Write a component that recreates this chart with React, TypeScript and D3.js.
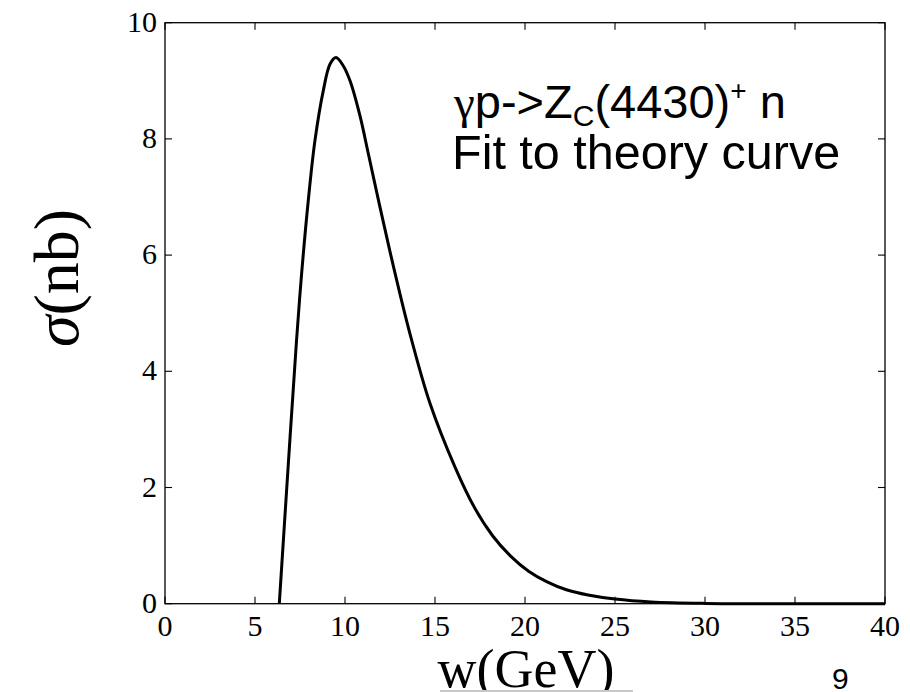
import React from 'react';
import * as d3 from 'd3';

// cross section
const wGeV = [6.35, 6.85, 7.3, 7.59, 7.96, 8.33, 8.8, 9.17, 9.5, 9.9, 10.28, 10.83, 11.3, 11.94, 12.5, 13.0, 13.7, 14.72, 16.1, 17.2, 18.2, 19.2, 20.2, 21.2, 22.3, 23.5, 25, 27, 30, 33, 40];
const sigmaNb = [0, 2.4, 4.5, 5.68, 6.94, 7.97, 8.84, 9.29, 9.4, 9.26, 9.0, 8.4, 7.74, 6.83, 6.06, 5.4, 4.54, 3.45, 2.36, 1.65, 1.17, 0.82, 0.56, 0.38, 0.24, 0.15, 0.08, 0.03, 0.005, 0, 0];

const xTicks = [0, 5, 10, 15, 20, 25, 30, 35, 40];
const yTicks = [0, 2, 4, 6, 8, 10];

const W = 910, H = 692;
const margin = { left: 165, right: 25, top: 22.7, bottom: 88.3 };
const serif = '"Liberation Serif", "DejaVu Serif", serif';
const sans = '"Liberation Sans", Arial, sans-serif';

export default function App() {
  const x = d3.scaleLinear().domain([0, 40]).range([margin.left, W - margin.right]);
  const y = d3.scaleLinear().domain([0, 10]).range([H - margin.bottom, margin.top]);
  const pts = wGeV.map((w, i) => [w, sigmaNb[i]] as [number, number]);
  const line = d3.line<[number, number]>().x((d) => x(d[0])).y((d) => y(d[1])).curve(d3.curveCatmullRom.alpha(0.5));
  const x0 = x(0), x1 = x(40), y0 = y(0), y1 = y(10);
  const tk = 7;

  return (
    <svg width={W} height={H} style={{ position: 'absolute', left: 0, top: 0, background: '#fff' }}>
      {/* curve */}
      <path d={line(pts) || ''} fill="none" stroke="#000" strokeWidth={3} strokeLinejoin="round" />

      {/* frame */}
      <rect x={x0} y={y1} width={x1 - x0} height={y0 - y1} fill="none" stroke="#000" strokeWidth={1.3} />

      {/* x ticks, bottom and top, pointing inward */}
      {xTicks.map((t) => (
        <g key={'x' + t}>
          <line x1={x(t)} x2={x(t)} y1={y0} y2={y0 - tk} stroke="#000" strokeWidth={1.1} />
          <line x1={x(t)} x2={x(t)} y1={y1} y2={y1 + tk} stroke="#000" strokeWidth={1.1} />
          <text x={x(t)} y={y0 + 32} textAnchor="middle" fontFamily={serif} fontSize={30} fill="#000">{t}</text>
        </g>
      ))}

      {/* y ticks, left and right */}
      {yTicks.map((t) => (
        <g key={'y' + t}>
          <line x1={x0} x2={x0 + tk} y1={y(t)} y2={y(t)} stroke="#000" strokeWidth={1.1} />
          <line x1={x1} x2={x1 - tk} y1={y(t)} y2={y(t)} stroke="#000" strokeWidth={1.1} />
          <text x={x0 - 8} y={y(t) + 9} textAnchor="end" fontFamily={serif} fontSize={30} fill="#000">{t}</text>
        </g>
      ))}

      {/* y label */}
      <text transform={`translate(${78},${278}) rotate(-90)`} textAnchor="middle" fontFamily={serif} fontSize={64} fill="#000">
        <tspan fontStyle="italic">σ</tspan>(nb)
      </text>

      {/* x label */}
      <text x={526} y={687} textAnchor="middle" fontFamily={serif} fontSize={54} fill="#000">w(GeV)</text>
      <line x1={440} x2={633} y1={691} y2={691} stroke="#c8c8c8" strokeWidth={2} />

      {/* annotation */}
      <text x={454} y={118} fontFamily={sans} fontSize={47} fill="#000">
        <tspan fontFamily={serif}>γ</tspan>p-&gt;Z<tspan fontSize={30} dy={8}>C</tspan><tspan dy={-8}>(4430)</tspan><tspan fontSize={28} dy={-18}>+</tspan><tspan dy={18}> n</tspan>
      </text>
      <text x={452} y={169} fontFamily={sans} fontSize={48.5} fill="#000">Fit to theory curve</text>

      {/* slide number */}
      <text x={832} y={689} fontFamily={sans} fontSize={30} fill="#000">9</text>
    </svg>
  );
}
